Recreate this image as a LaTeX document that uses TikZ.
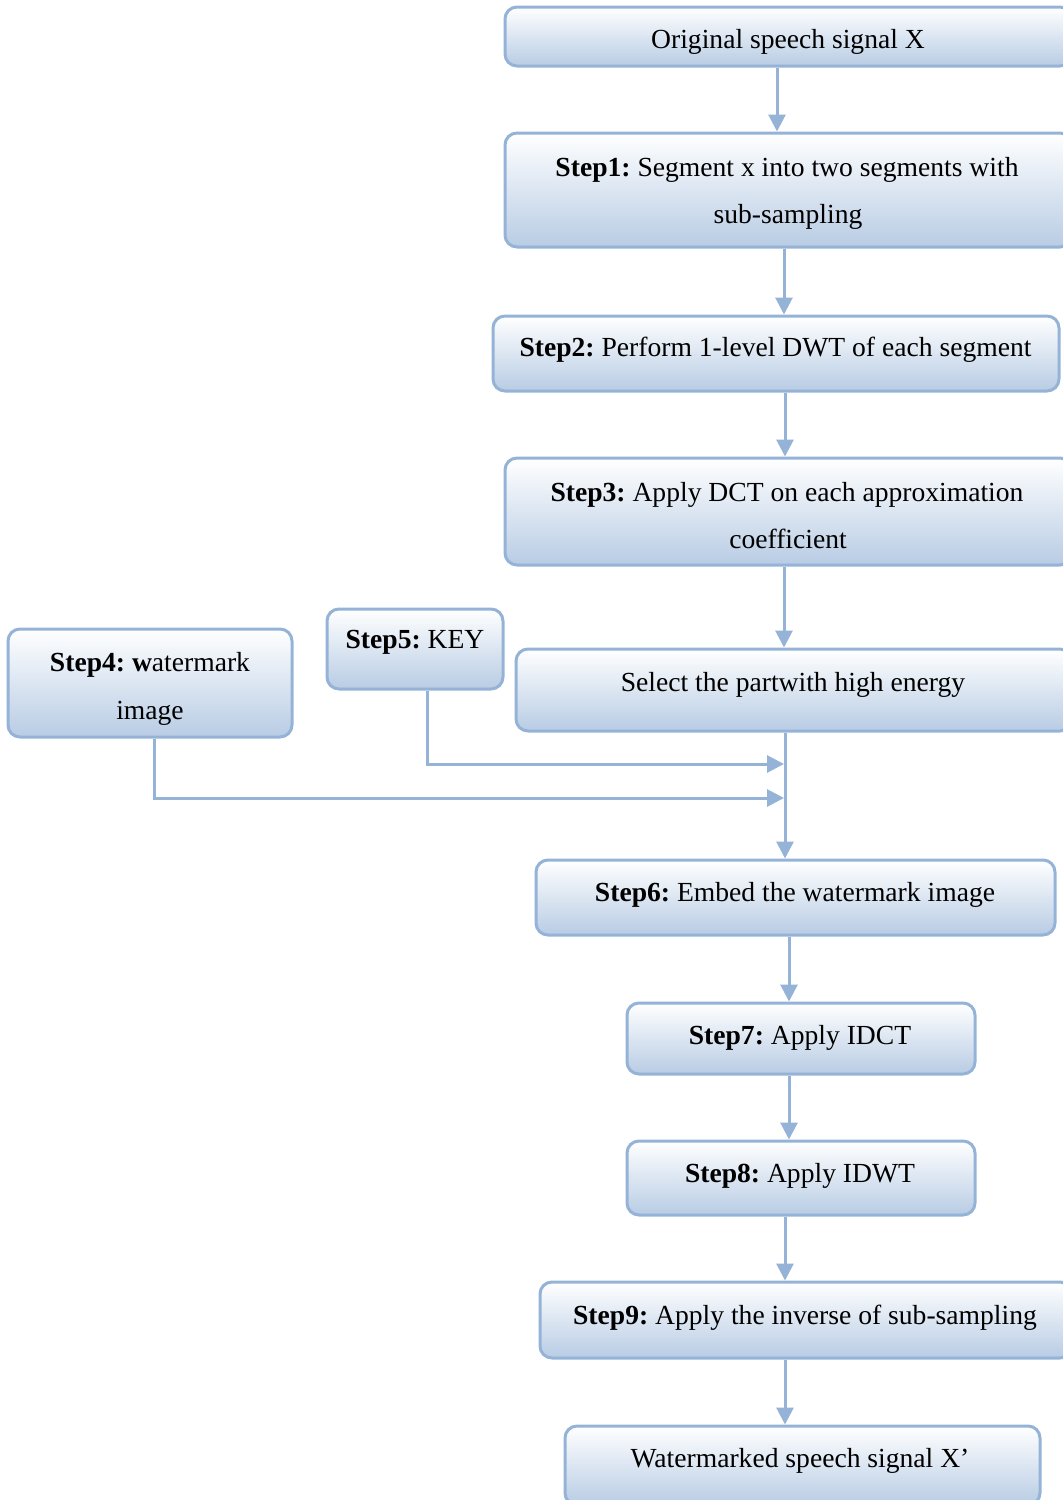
\documentclass[tikz,border=0pt]{standalone}
\usepackage{fontspec}
\setmainfont{Liberation Serif}
\frenchspacing
\usetikzlibrary{arrows.meta}
\definecolor{boxline}{RGB}{149,179,215}
\definecolor{boxfill}{RGB}{184,204,228}
\tikzset{
  x=1pt, y=-1pt,
  box/.style={draw=boxline, line width=3pt, rounded corners=12pt,
    top color=white, bottom color=boxfill, inner sep=0pt},
  txt/.style={anchor=base, inner sep=0pt, font=\fontsize{27.6}{47}\selectfont},
  arr/.style={draw=boxline, line width=3pt,
    -{Triangle[length=17pt,width=17pt]}},
}
\begin{document}
\begin{tikzpicture}
\useasboundingbox (0,0) rectangle (1063,1500);
\clip (0,0) rectangle (1063,1500);

% process boxes
\node[box, minimum width=567pt, minimum height=59pt]  (orig) at (788.5,36.5) {};
\node[box, minimum width=567pt, minimum height=114pt] (s1)   at (788.5,190) {};
\node[box, minimum width=566pt, minimum height=75pt]  (s2)   at (776,353.5) {};
\node[box, minimum width=567pt, minimum height=107pt] (s3)   at (788.5,511.5) {};
\node[box, minimum width=556pt, minimum height=82pt]  (sel)  at (794,690) {};
\node[box, minimum width=284pt, minimum height=108pt] (s4)   at (150,683) {};
\node[box, minimum width=176pt, minimum height=80pt]  (s5)   at (415,649) {};
\node[box, minimum width=519pt, minimum height=75pt]  (s6)   at (795.5,897.5) {};
\node[box, minimum width=348pt, minimum height=71pt]  (s7)   at (801,1038.5) {};
\node[box, minimum width=348pt, minimum height=74pt]  (s8)   at (801,1178) {};
\node[box, minimum width=532pt, minimum height=76pt]  (s9)   at (806,1320) {};
\node[box, minimum width=475pt, minimum height=79pt]  (wm)   at (802.5,1465.5) {};

% labels
\node[txt] (origt)  at (788,48)   {Original speech signal X};
\node[txt] (s1ta)   at (787,176)  {\textbf{Step1:} Segment x into two segments with};
\node[txt] (s1tb)   at (788,223)  {sub-sampling};
\node[txt] (s2t)    at (775.5,356) {\textbf{Step2:} Perform 1-level DWT of each segment};
\node[txt] (s3ta)   at (787,501)  {\textbf{Step3:} Apply DCT on each approximation};
\node[txt] (s3tb)   at (788,548)  {coefficient};
\node[txt] (selt)   at (793,691)  {Select the partwith high energy};
\node[txt] (s4ta)   at (150,671)  {\textbf{Step4: w}atermark};
\node[txt] (s4tb)   at (150,719)  {image};
\node[txt] (s5t)    at (415,648)  {\textbf{Step5:} KEY};
\node[txt] (s6t)    at (795,901)  {\textbf{Step6:} Embed the watermark image};
\node[txt] (s7t)    at (800,1044) {\textbf{Step7:} Apply IDCT};
\node[txt] (s8t)    at (800,1182) {\textbf{Step8:} Apply IDWT};
\node[txt] (s9t)    at (805,1324) {\textbf{Step9:} Apply the inverse of sub-sampling};
\node[txt] (wmt)    at (800,1467) {Watermarked speech signal X’};

% merge points on the main flow line
\coordinate (j5) at (784,764);
\coordinate (j4) at (784,798);

% connectors
\draw[arr] ([xshift=-11.5pt]orig.south) -- ([xshift=-11.5pt]s1.north);
\draw[arr] ([xshift=-4.5pt]s1.south) -- ([xshift=8pt]s2.north);
\draw[arr] ([xshift=9pt]s2.south) -- ([xshift=-3.5pt]s3.north);
\draw[arr] ([xshift=-4.5pt]s3.south) -- ([xshift=-10pt]sel.north);
\draw[arr] ([xshift=-9pt]sel.south) -- ([xshift=-10.5pt]s6.north);
\draw[arr] ([xshift=12pt]s5.south) |- (j5);
\draw[arr] ([xshift=4pt]s4.south) |- (j4);
\draw[arr] ([xshift=-6.5pt]s6.south) -- ([xshift=-12pt]s7.north);
\draw[arr] ([xshift=-12pt]s7.south) -- ([xshift=-12pt]s8.north);
\draw[arr] ([xshift=-16pt]s8.south) -- ([xshift=-21pt]s9.north);
\draw[arr] ([xshift=-21pt]s9.south) -- ([xshift=-17.5pt]wm.north);
\end{tikzpicture}
\end{document}
